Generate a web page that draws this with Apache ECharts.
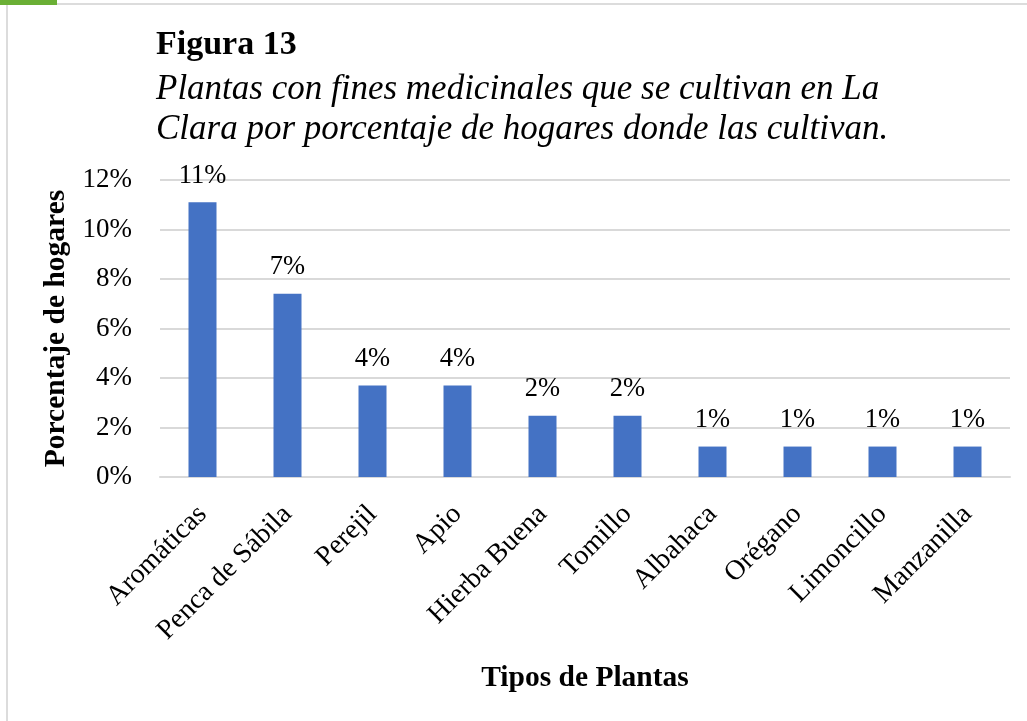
<!DOCTYPE html>
<html lang="es">
<head>
    <meta charset="UTF-8">
    <script src="https://cdn.jsdelivr.net/npm/echarts@6/dist/echarts.min.js"></script>
    <style>
        html, body { margin: 0; padding: 0; background: #fff; }
        #frame-green { position: absolute; left: 0; top: 0; width: 57px; height: 5px; background: #6aaf35; }
        #frame-top { position: absolute; left: 57px; top: 3px; right: 0; height: 2px; background: #dcdcdc; }
        #frame-left { position: absolute; left: 6px; top: 5px; bottom: 0; width: 2px; background: #dcdcdc; }
        #main { position: absolute; left: 0; top: 0; width: 1027px; height: 721px; }
    </style>
</head>
<body>
    <div id="frame-green"></div>
    <div id="frame-top"></div>
    <div id="frame-left"></div>
    <div id="main"></div>

    <script>
        // plantas y porcentaje de hogares (%)
        var plantas = ['Aromáticas', 'Penca de Sábila', 'Perejil', 'Apio', 'Hierba Buena',
                       'Tomillo', 'Albahaca', 'Orégano', 'Limoncillo', 'Manzanilla'];
        var porcentajes = [11.1, 7.4, 3.7, 3.7, 2.47, 2.47, 1.23, 1.23, 1.23, 1.23];

        var serif = '"Liberation Serif", "Times New Roman", serif';

        var chart = echarts.init(document.getElementById('main'));

        chart.setOption({
            animation: false,
            title: [{
                text: 'Figura 13',
                left: 151,
                top: 23,
                textStyle: { fontFamily: serif, fontSize: 34, fontWeight: 'bold', color: '#000' }
            }, {
                text: 'Plantas con fines medicinales que se cultivan en La\nClara por porcentaje de hogares donde las cultivan.',
                left: 151,
                top: 65,
                textStyle: { fontFamily: serif, fontSize: 35, fontStyle: 'italic', fontWeight: 'normal',
                             color: '#000', lineHeight: 40 }
            }],
            grid: { left: 160, right: 17, top: 180, bottom: 244 },
            xAxis: {
                type: 'category',
                data: plantas,
                name: 'Tipos de Plantas',
                nameLocation: 'middle',
                nameGap: 186,
                nameTextStyle: { fontFamily: serif, fontSize: 29.5, fontWeight: 'bold', color: '#000' },
                axisLine: { lineStyle: { color: '#d9d9d9', width: 2 } },
                axisTick: { show: false },
                axisLabel: { rotate: 45, margin: 33, fontFamily: serif, fontSize: 28, color: '#000' }
            },
            yAxis: {
                type: 'value',
                min: 0,
                max: 12,
                interval: 2,
                name: 'Porcentaje de hogares',
                nameLocation: 'middle',
                nameGap: 80,
                nameTextStyle: { fontFamily: serif, fontSize: 29.5, fontWeight: 'bold', color: '#000' },
                axisLine: { show: false },
                axisTick: { show: false },
                splitLine: { lineStyle: { color: '#d9d9d9', width: 2 } },
                axisLabel: {
                    margin: 28,
                    fontFamily: serif, fontSize: 27, color: '#000',
                    formatter: function (v) { return v + '%'; }
                }
            },
            series: [{
                type: 'bar',
                data: porcentajes,
                barWidth: 28,
                itemStyle: { color: '#4472c4' },
                label: {
                    show: true,
                    position: 'top',
                    distance: 13,
                    fontFamily: serif, fontSize: 26.5, color: '#000',
                    formatter: function (p) { return Math.round(p.value) + '%'; }
                }
            }]
        });
    </script>
</body>
</html>
